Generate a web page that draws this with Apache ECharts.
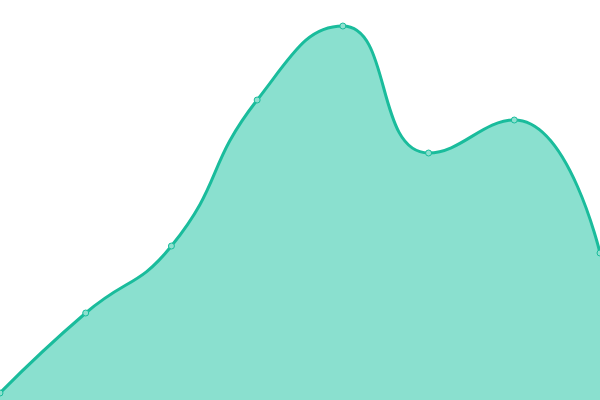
<!DOCTYPE html>
<html>
<head>
<meta charset="utf-8">
<script src="https://cdn.jsdelivr.net/npm/echarts@6/dist/echarts.min.js"></script>
<style>
  html, body { margin: 0; padding: 0; background: #fff; }
  #main { width: 600px; height: 400px; }
</style>
</head>
<body>
<div id="main"></div>
<script>
// 数据
var categories = ['1', '2', '3', '4', '5', '6', '7', '8'];
var values = [7, 87, 154, 300, 374, 247, 280, 147];

var myChart = echarts.init(document.getElementById('main'));
var option = {
    animation: false,
    grid: { left: 0, right: 0, top: 0, bottom: 0 },
    xAxis: {
        type: 'category',
        boundaryGap: false,
        data: categories,
        show: false
    },
    yAxis: {
        type: 'value',
        min: 0,
        max: 400,
        show: false
    },
    series: [{
        type: 'line',
        smooth: true,
        data: values,
        symbol: 'circle',
        symbolSize: 6,
        itemStyle: {
            color: '#8ee0cf',
            borderColor: '#1abc9c',
            borderWidth: 1
        },
        lineStyle: {
            color: '#1abc9c',
            width: 3
        },
        areaStyle: {
            color: '#8ae0cf',
            opacity: 1
        }
    }]
};
myChart.setOption(option);
</script>
</body>
</html>
